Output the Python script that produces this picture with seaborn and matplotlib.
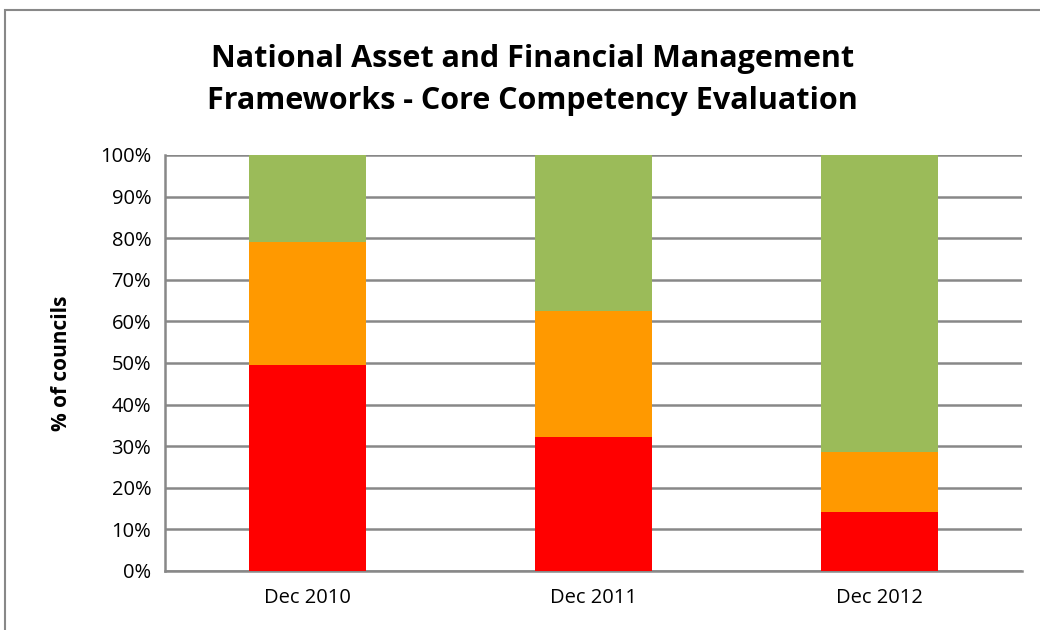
import matplotlib
matplotlib.use("Agg")
import matplotlib.pyplot as plt
import seaborn as sns
import numpy as np
import pandas as pd
from matplotlib.patches import Rectangle
from matplotlib.ticker import PercentFormatter

categories = ["Dec 2010", "Dec 2011", "Dec 2012"]
red_vals = [49.5, 32.2, 14.2]
orange_vals = [29.6, 30.3, 14.4]
green_vals = [20.9, 37.5, 71.4]
yticks = [0, 10, 20, 30, 40, 50, 60, 70, 80, 90, 100]

sns.set_theme(style="white")
plt.rcParams['font.family'] = ['Open Sans', 'DejaVu Sans']
plt.rcParams['text.color'] = 'black'

df = pd.DataFrame({"cat": categories, "red": red_vals, "orange": orange_vals, "green": green_vals})
df["c_red"] = df["red"]
df["c_orange"] = df["red"] + df["orange"]
df["c_green"] = df["c_orange"] + df["green"]

fig = plt.figure(figsize=(10.4, 6.3), dpi=100)
ax = fig.add_axes([0.1587, 0.0937, 0.8240, 0.6603])

for col, color in [("c_green", "#9BBB59"), ("c_orange", "#FF9900"), ("c_red", "#FF0000")]:
    sns.barplot(data=df, x="cat", y=col, color=color, width=0.41, ax=ax,
                saturation=1, linewidth=0, zorder=3)

ax.set_ylim(0, 100)
ax.set_xlim(-0.5, 2.5)
ax.set_yticks(yticks)
ax.yaxis.set_major_formatter(PercentFormatter(decimals=0))
ax.grid(axis="y", color="#888888", linewidth=1.8, zorder=0)
ax.set_axisbelow(True)
for s in ["top", "right"]:
    ax.spines[s].set_visible(False)
for s in ["left", "bottom"]:
    ax.spines[s].set_color("#888888")
    ax.spines[s].set_linewidth(1.8)
ax.tick_params(axis="both", length=0, labelsize=14.5, colors="black")
ax.tick_params(axis="y", pad=10)
ax.tick_params(axis="x", pad=12)
ax.set_xlabel("")
ax.set_ylabel("% of councils", fontsize=15, fontweight="bold", color="black")
ax.yaxis.set_label_coords(-0.108, 0.5)

fig.text(0.512, 0.873, "National Asset and Financial Management\nFrameworks - Core Competency Evaluation",
         ha="center", va="center", fontsize=22, fontweight="bold", linespacing=1.55, color="black")

fig.patches.append(Rectangle((5/1040, -0.1), 1.2, 1 - 10/630 + 0.1, transform=fig.transFigure,
                             fill=False, edgecolor="#888888", linewidth=1.5))

fig.savefig("out.png", dpi=100)
